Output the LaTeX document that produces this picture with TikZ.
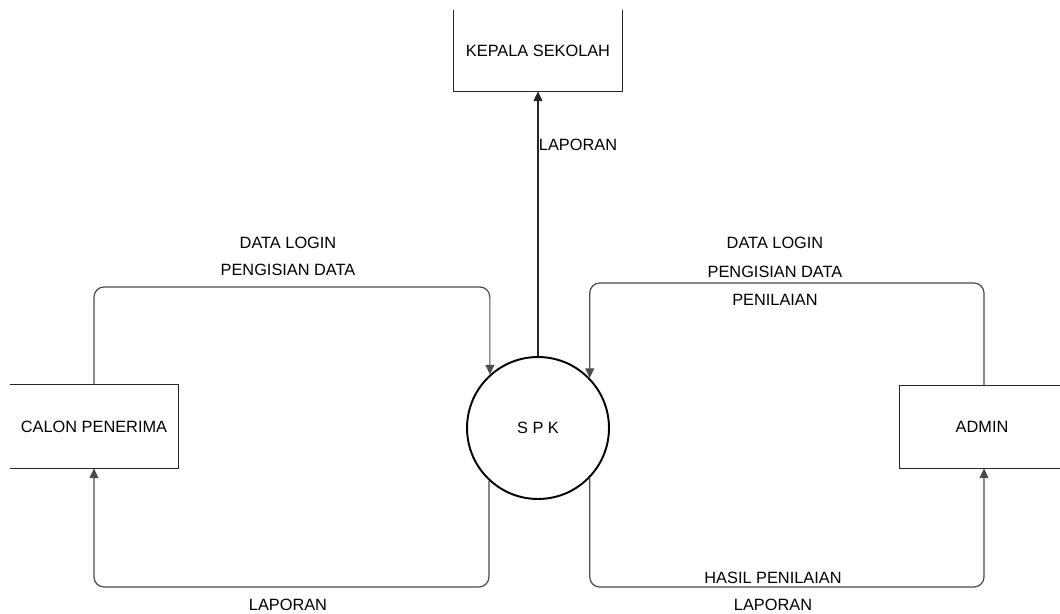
\documentclass[tikz,border=0pt]{standalone}
\usepackage{fontspec}
\setmainfont{Liberation Sans}
\usetikzlibrary{arrows.meta}
\begin{document}
\begin{tikzpicture}[x=0.02cm,y=-0.02cm,
  every node/.style={font=\fontsize{9.3}{11}\selectfont, text=black},
  entity/.style={inner sep=0pt},
  border/.style={draw=black!85, line width=0.9pt},
  process/.style={circle, draw=black, line width=1.1pt, minimum size=2.84cm, inner sep=0pt},
  flow/.style={draw=black!70, line width=0.7pt, rounded corners=0.2cm,
    -{Triangle[length=5.5pt,width=5pt]}},
  lbl/.style={inner sep=1pt}]
\useasboundingbox (0,0) rectangle (1060,614);
\clip (0,0) rectangle (1060,614);

% external entities and the process
\node[entity, minimum width=3.36cm, minimum height=1.62cm] (ks) at (538,50.5) {KEPALA SEKOLAH};
\node[entity, minimum width=3.36cm, minimum height=1.66cm] (cal) at (94,426.5) {CALON PENERIMA};
\node[entity, minimum width=3.28cm, minimum height=1.64cm] (adm) at (982,427) {ADMIN};
\node[process] (spk) at (538,428) {S P K};

% entity borders (open sides run off the page)
\draw[border] (ks.north west) -- (ks.south west) -- (ks.south east) -- (ks.north east);
\draw[border] (cal.north west) -- (cal.north east) -- (cal.south east) -- (cal.south west);
\draw[border] (adm.north east) -- (adm.north west) -- (adm.south west) -- (adm.south east);

% guide coordinates for the loops
\coordinate (lx) at (94,0);
\coordinate (ax) at (984,0);
\coordinate (ltop) at (0,287);
\coordinate (rtop) at (0,283);
\coordinate (bot) at (0,587);

% data flows
\draw[flow, draw=black!85] (spk.north) -- (ks.south);
\draw[flow] (lx |- cal.north) |- (spk.132.5 |- ltop) -- (spk.132.5);
\draw[flow] (ax |- adm.north) |- (spk.44 |- rtop) -- (spk.44);
\draw[flow] (spk.227.5) -- (spk.227.5 |- bot) -| (lx |- cal.south);
\draw[flow] (spk.316) -- (spk.316 |- bot) -| (ax |- adm.south);

% flow labels
\node[lbl] (l1) at (578,145) {LAPORAN};
\node[lbl] (l2) at (288,243) {DATA LOGIN};
\node[lbl] (l3) at (288,270) {PENGISIAN DATA};
\node[lbl] (l4) at (775,243) {DATA LOGIN};
\node[lbl] (l5) at (775,272) {PENGISIAN DATA};
\node[lbl] (l6) at (775,300) {PENILAIAN};
\node[lbl] (l7) at (288,605) {LAPORAN};
\node[lbl] (l8) at (773,578) {HASIL PENILAIAN};
\node[lbl] (l9) at (773,605) {LAPORAN};
\end{tikzpicture}
\end{document}
